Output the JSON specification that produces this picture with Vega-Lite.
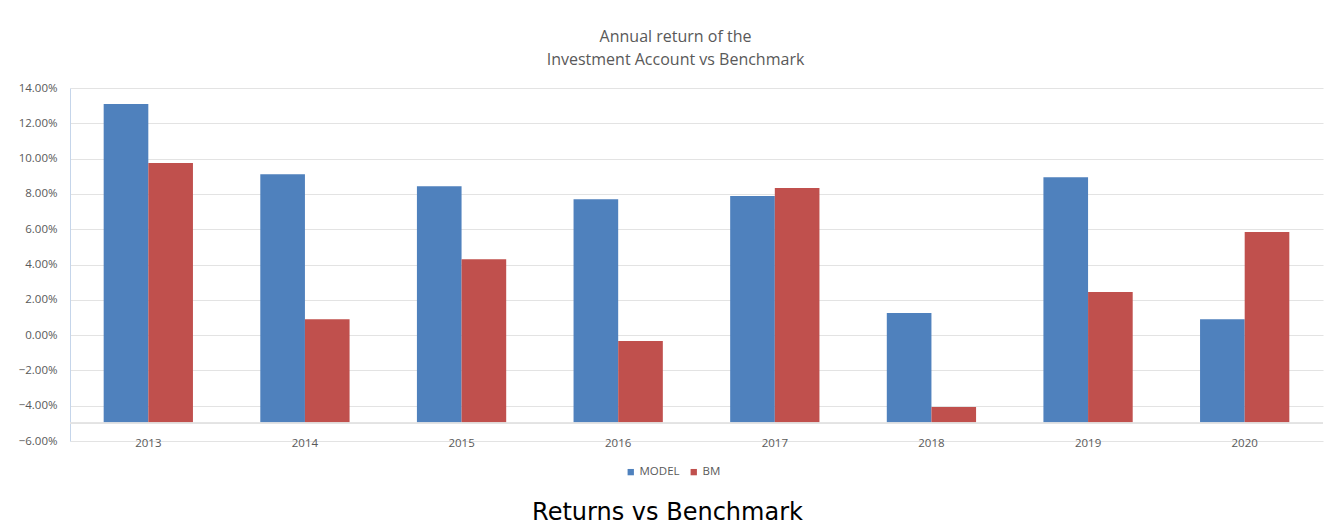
{
  "$schema": "https://vega.github.io/schema/vega-lite/v6.json",
  "width": 1253,
  "height": 353,
  "autosize": {"type": "none"},
  "padding": {"left": 70, "top": 88, "right": 16, "bottom": 83},
  "background": "white",
  "title": {
    "text": ["Annual return of the", "Investment Account vs Benchmark"],
    "font": "Open Sans",
    "fontSize": 16,
    "fontWeight": "normal",
    "color": "#595959",
    "lineHeight": 23,
    "anchor": "middle",
    "offset": 14,
    "dx": -21
  },
  "data": {
    "values": [
      {"year": "2013", "series": "MODEL", "value": 0.1309},
      {"year": "2013", "series": "BM", "value": 0.0975},
      {"year": "2014", "series": "MODEL", "value": 0.0912},
      {"year": "2014", "series": "BM", "value": 0.0090},
      {"year": "2015", "series": "MODEL", "value": 0.0844},
      {"year": "2015", "series": "BM", "value": 0.0430},
      {"year": "2016", "series": "MODEL", "value": 0.0770},
      {"year": "2016", "series": "BM", "value": -0.0034},
      {"year": "2017", "series": "MODEL", "value": 0.0788},
      {"year": "2017", "series": "BM", "value": 0.0833},
      {"year": "2018", "series": "MODEL", "value": 0.0125},
      {"year": "2018", "series": "BM", "value": -0.0408},
      {"year": "2019", "series": "MODEL", "value": 0.0895},
      {"year": "2019", "series": "BM", "value": 0.0244},
      {"year": "2020", "series": "MODEL", "value": 0.0090},
      {"year": "2020", "series": "BM", "value": 0.0584}
    ]
  },
  "resolve": {"axis": {"y": "independent"}},
  "layer": [
    {
      "mark": {"type": "bar"},
      "encoding": {
        "x": {
          "field": "year",
          "type": "ordinal",
          "scale": {"paddingInner": 0.43, "paddingOuter": 0.215},
          "axis": {
            "orient": "bottom",
            "domain": false,
            "ticks": false,
            "grid": false,
            "labelAngle": 0,
            "labelFont": "Open Sans",
            "labelFontSize": 11.5,
            "labelColor": "#595959",
            "labelBaseline": "middle",
            "labelPadding": 2,
            "title": "Returns vs Benchmark",
            "titleFont": "DejaVu Sans",
            "titleFontSize": 24,
            "titleFontWeight": "normal",
            "titleColor": "#000000",
            "titleX": 597,
            "titleY": 78,
            "titleAlign": "center",
            "titleBaseline": "alphabetic"
          }
        },
        "xOffset": {"field": "series", "type": "nominal", "sort": ["MODEL", "BM"]},
        "y": {
          "field": "value",
          "type": "quantitative",
          "scale": {"domain": [-0.06, 0.14], "nice": false, "zero": false},
          "axis": {
            "values": [-0.06, -0.04, -0.02, 0, 0.02, 0.04, 0.06, 0.08, 0.1, 0.12, 0.14],
            "format": ".2%",
            "labelOverlap": false,
            "grid": true,
            "gridColor": "#e3e3e3",
            "domain": true,
            "domainColor": "#c5d5ea",
            "ticks": false,
            "labelPadding": 13,
            "labelFont": "Open Sans",
            "labelFontSize": 11.5,
            "labelColor": "#595959",
            "title": null
          }
        },
        "y2": {"datum": -0.05},
        "color": {
          "field": "series",
          "type": "nominal",
          "sort": ["MODEL", "BM"],
          "scale": {"domain": ["MODEL", "BM"], "range": ["#4F81BD", "#C0504D"]},
          "legend": {
            "orient": "none",
            "legendX": 555,
            "legendY": 378,
            "direction": "horizontal",
            "title": null,
            "symbolType": "square",
            "symbolSize": 40,
            "symbolStrokeWidth": 0,
            "labelFont": "Open Sans",
            "labelFontSize": 11.5,
            "labelColor": "#595959",
            "labelOffset": 3,
            "columnPadding": 8
          }
        }
      }
    },
    {
      "mark": {"type": "rule", "color": "#e3e3e3", "strokeWidth": 1},
      "encoding": {"y": {"datum": -0.05, "type": "quantitative", "axis": null}}
    }
  ],
  "config": {
    "view": {"stroke": null},
    "axisY": {"labelOverlap": false, "labelFlush": false}
  }
}
